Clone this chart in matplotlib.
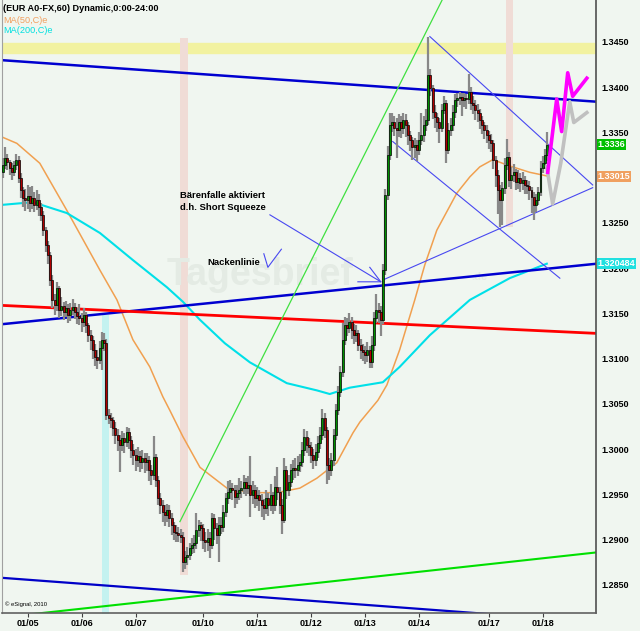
import numpy as np
import matplotlib
matplotlib.use("Agg")
import matplotlib.pyplot as plt
import matplotlib.transforms as mtransforms

plt.rcParams["font.family"] = ["Liberation Sans", "DejaVu Sans"]

# hourly EUR/USD candles, 01/04 evening to 01/18
close = [
    1.3314, 1.3322, 1.3317, 1.3311, 1.3306, 1.3314, 1.3320, 1.3300, 1.3286, 1.3278,
    1.3275, 1.3280, 1.3272, 1.3278, 1.3270, 1.3275, 1.3268, 1.3259, 1.3242, 1.3226,
    1.3215, 1.3187, 1.3165, 1.3159, 1.3178, 1.3154, 1.3158, 1.3152, 1.3156, 1.3148,
    1.3154, 1.3157, 1.3152, 1.3147, 1.3145, 1.3141, 1.3148, 1.3137, 1.3126, 1.3121,
    1.3110, 1.3102, 1.3099, 1.3112, 1.3121, 1.3117, 1.3038, 1.3035, 1.3032, 1.3024,
    1.3016, 1.3010, 1.3005, 1.3012, 1.3008, 1.3019, 1.3010, 1.2999, 1.2994, 1.2988,
    1.2993, 1.2986, 1.2990, 1.2986, 1.2988, 1.2977, 1.2972, 1.2991, 1.2966, 1.2946,
    1.2938, 1.2931, 1.2927, 1.2933, 1.2924, 1.2916, 1.2909, 1.2907, 1.2905, 1.2903,
    1.2875, 1.2881, 1.2883, 1.2891, 1.2894, 1.2896, 1.2911, 1.2916, 1.2913, 1.2900,
    1.2898, 1.2902, 1.2894, 1.2924, 1.2913, 1.2905, 1.2916, 1.2914, 1.2931, 1.2946,
    1.2953, 1.2957, 1.2955, 1.2947, 1.2952, 1.2955, 1.2957, 1.2964, 1.2957, 1.2961,
    1.2949, 1.2955, 1.2946, 1.2949, 1.2944, 1.2938, 1.2935, 1.2946, 1.2938, 1.2949,
    1.2938, 1.2958, 1.2953, 1.2938, 1.2922, 1.2977, 1.2955, 1.2964, 1.2977, 1.2979,
    1.2977, 1.2983, 1.2986, 1.2999, 1.3014, 1.3005, 1.3003, 1.2994, 1.2988, 1.2997,
    1.3007, 1.3016, 1.3035, 1.3021, 1.2983, 1.2977, 1.2988, 1.3016, 1.3043, 1.3063,
    1.3085, 1.3121, 1.3137, 1.3134, 1.3141, 1.3132, 1.3126, 1.3128, 1.3115, 1.3110,
    1.3107, 1.3104, 1.3110, 1.3096, 1.3115, 1.3145, 1.3154, 1.3152, 1.3143, 1.3198,
    1.3281, 1.3325, 1.3358, 1.3362, 1.3355, 1.3353, 1.3362, 1.3355, 1.3364, 1.3358,
    1.3347, 1.3342, 1.3334, 1.3336, 1.3331, 1.3342, 1.3347, 1.3358, 1.3364, 1.3414,
    1.3399, 1.3373, 1.3367, 1.3362, 1.3355, 1.3375, 1.3383, 1.3331, 1.3353, 1.3358,
    1.3373, 1.3386, 1.3388, 1.3389, 1.3386, 1.3388, 1.3387, 1.3395, 1.3383, 1.3380,
    1.3375, 1.3372, 1.3364, 1.3358, 1.3353, 1.3347, 1.3342, 1.3338, 1.3320, 1.3303,
    1.3286, 1.3275, 1.3289, 1.3314, 1.3323, 1.3298, 1.3303, 1.3306, 1.3295, 1.3300,
    1.3294, 1.3298, 1.3292, 1.3291, 1.3286, 1.3279, 1.3270, 1.3275, 1.3284, 1.3311,
    1.3316, 1.3325, 1.3336,
]
high = [
    1.3322, 1.3334, 1.3326, 1.3320, 1.3316, 1.3319, 1.3326, 1.3324, 1.3305, 1.3290,
    1.3288, 1.3292, 1.3290, 1.3291, 1.3284, 1.3286, 1.3282, 1.3272, 1.3263, 1.3246,
    1.3230, 1.3218, 1.3192, 1.3172, 1.3185, 1.3180, 1.3168, 1.3163, 1.3164, 1.3160,
    1.3162, 1.3166, 1.3162, 1.3156, 1.3160, 1.3150, 1.3156, 1.3152, 1.3140, 1.3132,
    1.3125, 1.3116, 1.3110, 1.3120, 1.3130, 1.3128, 1.3122, 1.3044, 1.3040, 1.3036,
    1.3030, 1.3022, 1.3016, 1.3020, 1.3018, 1.3025, 1.3024, 1.3015, 1.3006, 1.3000,
    1.3002, 1.2998, 1.2999, 1.2996, 1.2996, 1.2992, 1.2983, 1.3015, 1.2995, 1.2970,
    1.2952, 1.2944, 1.2938, 1.2940, 1.2938, 1.2930, 1.2920, 1.2916, 1.2914, 1.2912,
    1.2908, 1.2888, 1.2892, 1.2896, 1.2902, 1.2905, 1.2930, 1.2922, 1.2920, 1.2917,
    1.2908, 1.2912, 1.2908, 1.2930, 1.2928, 1.2918, 1.2925, 1.2925, 1.2938, 1.2952,
    1.2965, 1.2966, 1.2963, 1.2960, 1.2960, 1.2968, 1.2965, 1.2972, 1.2968, 1.2970,
    1.2992, 1.2965, 1.2960, 1.2958, 1.2955, 1.2950, 1.2945, 1.2955, 1.2952, 1.2962,
    1.2953, 1.2970, 1.2980, 1.2958, 1.2945, 1.2990, 1.2982, 1.2972, 1.2984, 1.2988,
    1.2990, 1.2992, 1.2995, 1.3008, 1.3022, 1.3020, 1.3012, 1.3008, 1.3000, 1.3006,
    1.3015, 1.3025, 1.3044, 1.3040, 1.3025, 1.2990, 1.2996, 1.3022, 1.3050, 1.3070,
    1.3092, 1.3140, 1.3146, 1.3145, 1.3150, 1.3146, 1.3138, 1.3137, 1.3132, 1.3122,
    1.3116, 1.3114, 1.3118, 1.3114, 1.3125, 1.3152, 1.3172, 1.3162, 1.3158, 1.3205,
    1.3288, 1.3335, 1.3372, 1.3372, 1.3368, 1.3366, 1.3370, 1.3368, 1.3372, 1.3370,
    1.3362, 1.3352, 1.3345, 1.3344, 1.3342, 1.3350, 1.3372, 1.3368, 1.3376, 1.3456,
    1.3420, 1.3403, 1.3380, 1.3372, 1.3366, 1.3382, 1.3390, 1.3386, 1.3360, 1.3366,
    1.3380, 1.3392, 1.3394, 1.3395, 1.3394, 1.3394, 1.3393, 1.3415, 1.3400, 1.3390,
    1.3386, 1.3382, 1.3376, 1.3368, 1.3362, 1.3358, 1.3352, 1.3348, 1.3342, 1.3324,
    1.3308, 1.3292, 1.3295, 1.3322, 1.3343, 1.3328, 1.3312, 1.3315, 1.3310, 1.3308,
    1.3305, 1.3306, 1.3302, 1.3298, 1.3296, 1.3290, 1.3284, 1.3282, 1.3290, 1.3318,
    1.3324, 1.3332, 1.3350,
]
low = [
    1.3300, 1.3310, 1.3308, 1.3303, 1.3297, 1.3302, 1.3309, 1.3294, 1.3278, 1.3268,
    1.3263, 1.3266, 1.3262, 1.3266, 1.3262, 1.3264, 1.3258, 1.3252, 1.3236, 1.3218,
    1.3205, 1.3180, 1.3156, 1.3148, 1.3153, 1.3145, 1.3147, 1.3143, 1.3146, 1.3140,
    1.3142, 1.3148, 1.3144, 1.3138, 1.3137, 1.3130, 1.3135, 1.3128, 1.3118, 1.3110,
    1.3100, 1.3092, 1.3089, 1.3094, 1.3088, 1.3108, 1.3032, 1.3028, 1.3024, 1.3015,
    1.3006, 1.2998, 1.2975, 1.2998, 1.2996, 1.3003, 1.3000, 1.2990, 1.2983, 1.2976,
    1.2980, 1.2975, 1.2978, 1.2974, 1.2976, 1.2965, 1.2960, 1.2966, 1.2958, 1.2938,
    1.2928, 1.2920, 1.2915, 1.2920, 1.2914, 1.2905, 1.2900, 1.2898, 1.2897, 1.2896,
    1.2864, 1.2868, 1.2872, 1.2878, 1.2884, 1.2885, 1.2890, 1.2903, 1.2899, 1.2890,
    1.2886, 1.2888, 1.2880, 1.2890, 1.2900, 1.2895, 1.2875, 1.2906, 1.2908, 1.2925,
    1.2940, 1.2945, 1.2944, 1.2935, 1.2940, 1.2944, 1.2946, 1.2950, 1.2948, 1.2950,
    1.2925, 1.2940, 1.2935, 1.2937, 1.2932, 1.2925, 1.2922, 1.2928, 1.2926, 1.2932,
    1.2928, 1.2932, 1.2944, 1.2928, 1.2906, 1.2918, 1.2945, 1.2948, 1.2958, 1.2966,
    1.2968, 1.2970, 1.2975, 1.2980, 1.2992, 1.2996, 1.2992, 1.2985, 1.2978, 1.2982,
    1.2990, 1.3000, 1.3010, 1.3012, 1.2962, 1.2966, 1.2970, 1.2982, 1.3010, 1.3038,
    1.3058, 1.3080, 1.3115, 1.3125, 1.3128, 1.3122, 1.3116, 1.3118, 1.3108, 1.3100,
    1.3098, 1.3094, 1.3096, 1.3090, 1.3090, 1.3108, 1.3140, 1.3140, 1.3125, 1.3138,
    1.3192, 1.3275, 1.3320, 1.3350, 1.3346, 1.3322, 1.3345, 1.3344, 1.3348, 1.3345,
    1.3336, 1.3330, 1.3320, 1.3322, 1.3318, 1.3325, 1.3336, 1.3340, 1.3352, 1.3358,
    1.3390, 1.3365, 1.3355, 1.3350, 1.3338, 1.3350, 1.3370, 1.3316, 1.3326, 1.3346,
    1.3352, 1.3366, 1.3378, 1.3380, 1.3368, 1.3378, 1.3376, 1.3382, 1.3375, 1.3370,
    1.3364, 1.3362, 1.3354, 1.3348, 1.3343, 1.3338, 1.3332, 1.3328, 1.3310, 1.3290,
    1.3260, 1.3246, 1.3248, 1.3282, 1.3308, 1.3290, 1.3288, 1.3295, 1.3286, 1.3288,
    1.3284, 1.3286, 1.3282, 1.3282, 1.3275, 1.3261, 1.3253, 1.3262, 1.3270, 1.3280,
    1.3305, 1.3310, 1.3318,
]
first_open = 1.3306

day_start = [11, 35, 59, 89, 113, 137, 161, 185, 216, 240]
day_labels = ["01/05", "01/06", "01/07", "01/10", "01/11", "01/12", "01/13", "01/14", "01/17", "01/18"]

# moving averages (bar, price)
ma50_x = [-0.4, 6.2, 16.4, 28.4, 43.1, 50.7, 57.8, 65.3, 71.1, 74.2, 80, 87.6, 99.6, 109.8,
          121.8, 132, 139.6, 148.4, 155.6, 158.7, 166.7, 170.7, 176.4, 183.1, 187.6, 192.9,
          201.8, 207.6, 212, 217.8, 225.3, 234.2, 241.8]
ma50_y = [1.3345, 1.3338, 1.3316, 1.3264, 1.3198, 1.3165, 1.3121, 1.3091, 1.3058, 1.3043,
          1.3014, 1.2980, 1.2957, 1.2952, 1.2952, 1.2957, 1.2968, 1.2985, 1.3018, 1.3030,
          1.3054, 1.3071, 1.3110, 1.3165, 1.3204, 1.3242, 1.3283, 1.3301, 1.3312, 1.3320,
          1.3313, 1.3306, 1.3302]
ma200_x = [-0.4, 13.3, 28.4, 43.1, 57.8, 72.9, 80, 87.6, 98.7, 109.8, 126.2, 139.6, 145.3,
           154.2, 168.9, 176.4, 189.8, 207.6, 225.3, 241.8]
ma200_y = [1.3270, 1.3273, 1.3261, 1.3239, 1.3209, 1.3179, 1.3163, 1.3143, 1.3117, 1.3096,
           1.3073, 1.3065, 1.3061, 1.3068, 1.3074, 1.3091, 1.3126, 1.3165, 1.3189, 1.3205]

# drawn trend lines (bar, price)
resist_x, resist_y = [-1, 264], [1.3430, 1.3384]
neck_x, neck_y = [-1, 264], [1.3138, 1.3205]
red_x, red_y = [-1, 264], [1.3159, 1.3128]
low_blue_x, low_blue_y = [-1, 264], [1.2858, 1.2809]
low_green_x, low_green_y = [-1, 264], [1.2814, 1.2886]
steep_x, steep_y = [78.7, 196], [1.2920, 1.3500]
tri_low_x, tri_low_y = [168.9, 262.2], [1.3187, 1.3289]
chan_up_x, chan_up_y = [189.8, 262.2], [1.3456, 1.3292]
chan_dn_x, chan_dn_y = [173.3, 247.6], [1.3340, 1.3189]
arrow_x, arrow_y = [118.7, 168], [1.3259, 1.3185]
arrow_head_x, arrow_head_y = [163.1, 168, 157.8], [1.3201, 1.3185, 1.3185]
neck_mark_x, neck_mark_y = [116, 117.8, 123.8], [1.3216, 1.3201, 1.3221]

# projected paths
proj_pink_x = [242.2, 246.2, 248.4, 251.1, 253.3, 259.6]
proj_pink_y = [1.3306, 1.3387, 1.3351, 1.3416, 1.3390, 1.3410]
proj_grey_x = [241.8, 244.4, 248, 252, 253.8, 259.6]
proj_grey_y = [1.3312, 1.3271, 1.3316, 1.3384, 1.3361, 1.3372]

bg = "#f0f6f0"
fig = plt.figure(figsize=(6.4, 6.31), dpi=100, facecolor=bg)
ax = fig.add_axes([0.003, 0.0285, 0.928, 0.9715], facecolor=bg)
ax.set_xlim(-0.44, 263.6)
ax.set_ylim(1.2819, 1.34964)

# highlight zones
ax.axhspan(1.3438, 1.3449, color="#f2f2a0", zorder=1)
ax.fill_between([78.7, 82.2], 1.2861, 1.3454, color="#f0dcd6", lw=0, zorder=1)
ax.fill_between([223.6, 226.7], 1.3246, 1.3500, color="#f0dcd6", lw=0, zorder=1)
ax.fill_between([44.0, 47.1], 1.2800, 1.3148, color="#c4f2f0", lw=0, zorder=1)

# faint watermark
ax.text(73, 1.3193, "Tagesbrief", fontsize=27, fontweight="bold", color="#e4ebe4", va="center", zorder=1)
ax.text(208, 1.3190, ".de", fontsize=8, fontweight="bold", color="#e4ebe4", va="center", zorder=1)

ax.plot(ma50_x, ma50_y, color="#f0a050", lw=1.1, zorder=2)
ax.plot(ma200_x, ma200_y, color="#00e0e8", lw=1.5, zorder=2)

ax.plot(resist_x, resist_y, color="#0000d0", lw=1.8, zorder=2)
ax.plot(neck_x, neck_y, color="#0000d0", lw=1.8, zorder=2)
ax.plot(red_x, red_y, color="#ff0000", lw=2.0, zorder=2)
ax.plot(low_blue_x, low_blue_y, color="#0000c8", lw=1.6, zorder=2)
ax.plot(low_green_x, low_green_y, color="#00e000", lw=1.5, zorder=2)
ax.plot(steep_x, steep_y, color="#40e040", lw=0.9, zorder=2)
for lx, ly in [(tri_low_x, tri_low_y), (chan_up_x, chan_up_y), (chan_dn_x, chan_dn_y),
               (arrow_x, arrow_y), (arrow_head_x, arrow_head_y), (neck_mark_x, neck_mark_y)]:
    ax.plot(lx, ly, color="#4848f0", lw=0.8, zorder=2)

# candles
x = np.arange(len(close))
c = np.array(close)
o = np.array([first_open] + close[:-1])
up = c >= o
ax.vlines(x, low, high, color="#888888", lw=1.6, zorder=3)
body_lo = np.minimum(o, c)
body_h = np.maximum(np.abs(c - o), 0.00009)
ax.bar(x[up], body_h[up], bottom=body_lo[up], width=0.88, color="#009000",
       edgecolor="black", linewidth=0.5, zorder=4)
ax.bar(x[~up], body_h[~up], bottom=body_lo[~up], width=0.88, color="#b00000",
       edgecolor="black", linewidth=0.5, zorder=4)

ax.plot(proj_grey_x, proj_grey_y, color="#c0c0c0", lw=2.6, zorder=5)
ax.plot(proj_pink_x, proj_pink_y, color="#ff00ff", lw=2.6, zorder=5)

ax.text(78.7, 1.3280, "Bärenfalle aktiviert", fontsize=6.8, fontweight="bold", va="center", zorder=6)
ax.text(78.7, 1.3267, "d.h. Short Squeeze", fontsize=6.8, fontweight="bold", va="center", zorder=6)
ax.text(90.7, 1.3206, "Nackenlinie", fontsize=6.8, fontweight="bold", va="center", zorder=6)
ax.text(0.006, 0.012, "© eSignal, 2010", transform=ax.transAxes, fontsize=4.2, zorder=6)

# axes
ax.yaxis.tick_right()
ax.set_yticks(np.arange(1.2850, 1.3451, 0.0050))
ax.yaxis.set_major_formatter(plt.FormatStrFormatter("%.4f"))
ax.tick_params(axis="y", length=0, pad=4, labelsize=6.5)
ax.set_xticks(day_start)
ax.set_xticklabels(day_labels)
ax.tick_params(axis="x", length=3, pad=1.5, labelsize=6.5, color="#404040")
for lab in ax.get_xticklabels() + ax.get_yticklabels():
    lab.set_fontweight("bold")
ax.spines["top"].set_visible(False)
ax.spines["left"].set_color("#a0a0a0")
ax.spines["bottom"].set_color("#606060")
ax.spines["right"].set_color("#505050")
ax.spines["bottom"].set_linewidth(1.2)
ax.spines["right"].set_linewidth(1.2)

# last value boxes on the price scale
trans = mtransforms.blended_transform_factory(ax.transAxes, ax.transData)
for val, txt, col in [(1.3337, "1.3336", "#00c000"), (1.33015, "1.33015", "#f0a060"),
                      (1.3205, "1.320484", "#20e0e0")]:
    ax.text(1.003, val, txt, transform=trans, color="white", fontsize=6.5, fontweight="bold",
            va="center", ha="left", clip_on=False, zorder=7,
            bbox=dict(boxstyle="square,pad=0.12", fc=col, ec="none"))

fig.text(0.005, 0.987, "(EUR A0-FX,60) Dynamic,0:00-24:00", fontsize=6.6, fontweight="bold", va="center")
fig.text(0.005, 0.968, "MA(50,C)e", fontsize=6.6, color="#f0a060", va="center")
fig.text(0.005, 0.951, "MA(200,C)e", fontsize=6.6, color="#00e0e0", va="center")

fig.savefig("out.png", dpi=100, facecolor=bg)
